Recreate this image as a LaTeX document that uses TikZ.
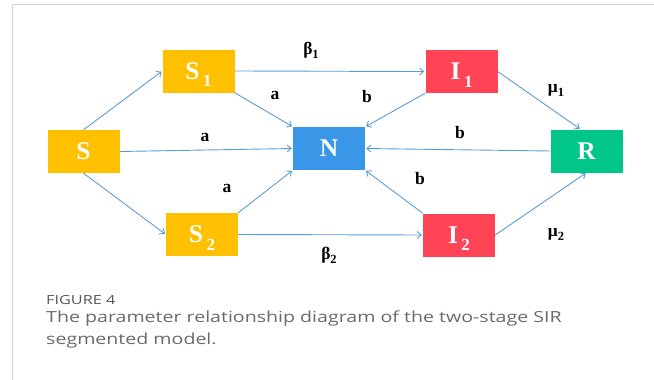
\documentclass[tikz,border=0pt]{standalone}
\usepackage{fontspec}
\setmainfont{Liberation Serif}
\newfontfamily\capfont[FakeStretch=1.28]{Open Sans}
\newfontfamily\figfont[FakeStretch=1.3]{Open Sans}
\usetikzlibrary{arrows.meta}
\definecolor{orng}{HTML}{FFC000}
\definecolor{redb}{HTML}{FF4455}
\definecolor{blueb}{HTML}{3A96E6}
\definecolor{greenb}{HTML}{00C787}
\definecolor{arrowblue}{HTML}{5B9BD5}
\definecolor{framegray}{HTML}{D4D4D4}
\definecolor{capdark}{HTML}{555555}
\definecolor{capgray}{HTML}{6A6A6A}
\newcommand\boxsub[1]{\hspace{0.14em}\raisebox{-0.3em}[0pt][0pt]{\fontsize{17}{17}\selectfont #1}}
\newcommand\lblsub[1]{\raisebox{-0.22em}[0pt][0pt]{\fontsize{12.5}{12.5}\selectfont #1}}
\begin{document}
\begin{tikzpicture}[x=1pt,y=-1pt,
  box/.style={minimum width=72pt,minimum height=43pt,inner sep=0pt,text=white,
    font=\fontsize{25.5}{25.5}\selectfont\bfseries},
  conn/.style={draw=arrowblue,line width=0.9pt,-{Straight Barb[length=4pt,width=7pt]},shorten >=1pt},
  lbl/.style={font=\fontsize{17.5}{17.5}\selectfont\bfseries,inner sep=0pt}]
\useasboundingbox (0,0) rectangle (654,380);
% frame
\draw[framegray,line width=1.5pt] (654,4.5) -- (12.5,4.5) -- (12.5,380);
% nodes
\node[box,fill=orng] (S)  at (83.5,151.5) {S};
\node[box,fill=orng] (S1) at (198.5,71) {S\boxsub{1}};
\node[box,fill=orng] (S2) at (202,234.5) {S\boxsub{2}};
\node[box,fill=redb] (I1) at (461.5,71.5) {I\boxsub{1}};
\node[box,fill=redb] (I2) at (459,235) {I\boxsub{2}};
\node[box,fill=blueb] (N) at (329,148.5) {N};
\node[box,fill=greenb] (R) at (586.5,151) {R};
% connectors
\draw[conn] (S.north) -- (S1.west);
\draw[conn] (S.south) -- (S2.west);
\draw[conn] (S.east) -- (N.west);
\draw[conn] (S1.east) -- (I1.west);
\draw[conn] (S2.east) -- (I2.west);
\draw[conn] (S1.south east) -- (N.north west);
\draw[conn] (S2.north east) -- (N.south west);
\draw[conn] (I1.south west) -- (N.north east);
\draw[conn] (I2.north west) -- (N.south east);
\draw[conn] (R.west) -- (N.east);
\draw[conn] (I1.east) -- ([xshift=-6pt]R.north);
\draw[conn] (I2.east) -- (R.south);
% labels
\node[lbl] (lb1) at (311,50) {β\lblsub{1}};
\node[lbl] (lb2) at (329,255) {β\lblsub{2}};
\node[lbl] (la1) at (275,95) {a};
\node[lbl] (la2) at (205,137) {a};
\node[lbl] (la3) at (227,188) {a};
\node[lbl] (lbb1) at (367,97) {b};
\node[lbl] (lbb2) at (460,133) {b};
\node[lbl] (lbb3) at (420,179) {b};
\node[lbl] (lm1) at (556,90) {μ\lblsub{1}};
\node[lbl] (lm2) at (556,234) {μ\lblsub{2}};
% caption
\node[anchor=base west,inner sep=0pt,text=capdark,font=\figfont\fontsize{12.5}{12.5}\selectfont] (fig) at (46,304) {FIGURE 4};
\node[anchor=base west,inner sep=0pt,text=capgray,font=\capfont\fontsize{15.3}{15.3}\selectfont] (cap1) at (46,322) {The parameter relationship diagram of the two-stage SIR};
\node[anchor=base west,inner sep=0pt,text=capgray,font=\capfont\fontsize{15.3}{15.3}\selectfont] (cap2) at (46,344) {segmented model.};
\end{tikzpicture}
\end{document}
